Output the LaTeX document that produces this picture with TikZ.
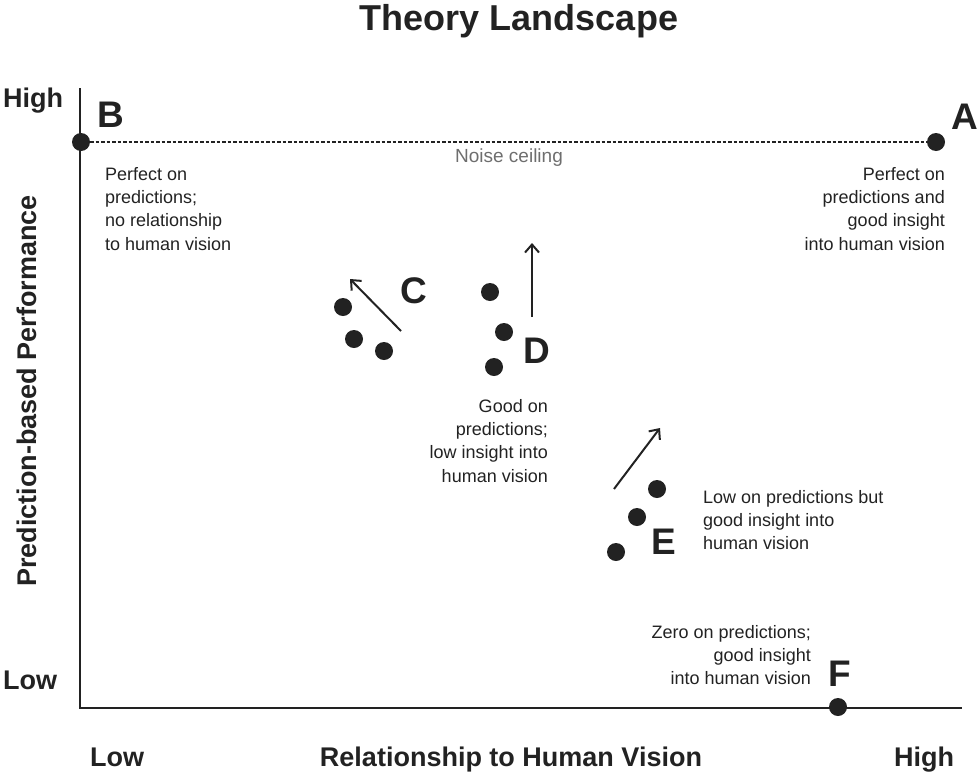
\documentclass[tikz,border=0pt]{standalone}
\usepackage{fontspec}
\setmainfont{Liberation Sans}
\usetikzlibrary{arrows.meta}

\begin{document}
\begin{tikzpicture}[
    x=1pt,
    y=-1pt,
    axis line/.style={draw=ink, line width=2pt},
    ceiling line/.style={draw=ink, line width=1.3pt, dash pattern=on 3.5pt off 2pt},
    theory dot/.style={circle, fill=ink, inner sep=0pt, minimum size=18pt},
    shift arrow/.style={draw=ink, line width=2pt, -{Straight Barb[length=8pt, width=14pt]}},
    point label/.style={font=\fontsize{37}{40}\selectfont\bfseries, text=ink, inner sep=0pt, anchor=base},
    note label/.style={font=\fontsize{18}{23.3}\selectfont, text=ink, inner sep=0pt},
    axis label/.style={font=\fontsize{27}{30}\selectfont\bfseries, text=ink, inner sep=0pt}
]

\definecolor{ink}{RGB}{34,34,34}
\definecolor{ceilingGrey}{RGB}{110,110,110}

\useasboundingbox (0,0) rectangle (980,774);

% Title.
\node[font=\fontsize{36}{40}\selectfont\bfseries, text=ink, inner sep=0pt, anchor=base]
  (title) at (519,30) {Theory Landscape};

% Axes.
\coordinate (yTop) at (80,88);
\coordinate (origin) at (80,708);
\coordinate (xEnd) at (962,708);
\draw[axis line] (yTop) -- (origin) -- (xEnd);

% Corner theories and the noise ceiling.
\node[theory dot] (ptB) at (81,142) {};
\node[theory dot] (ptA) at (936,142) {};
\node[theory dot] (ptF) at (838,707) {};
\draw[ceiling line] (ptB) -- (ptA);
\node[note label, text=ceilingGrey, font=\fontsize{19}{23}\selectfont] (noise) at (509,158) {Noise ceiling};

% Clusters C, D and E.
\node[theory dot] (c1) at (343,307) {};
\node[theory dot] (c2) at (354,339) {};
\node[theory dot] (c3) at (384,351) {};
\node[theory dot] (d1) at (490,292) {};
\node[theory dot] (d2) at (504,332) {};
\node[theory dot] (d3) at (494,367) {};
\node[theory dot] (e1) at (657,489) {};
\node[theory dot] (e2) at (637,517) {};
\node[theory dot] (e3) at (616,552) {};

% Directions of progress.
\coordinate (cTail) at (401,331);
\coordinate (cHead) at (350,279);
\coordinate (dTail) at (532,317);
\coordinate (dHead) at (532,243);
\coordinate (eTail) at (614,489);
\coordinate (eHead) at (660,428);
\draw[shift arrow] (cTail) -- (cHead);
\draw[shift arrow] (dTail) -- (dHead);
\draw[shift arrow] (eTail) -- (eHead);

% Point letters.
\node[point label] (labA) at (965,129) {A};
\node[point label] (labB) at (111,127) {B};
\node[point label] (labC) at (414,303) {C};
\node[point label] (labD) at (537,363) {D};
\node[point label] (labE) at (664,554) {E};
\node[point label] (labF) at (840,686) {F};

% Descriptions.
\node[note label, align=left, anchor=north west] (noteB) at (105,167)
  {Perfect on\\predictions;\\no relationship\\to human vision};
\node[note label, align=right, anchor=north east] (noteA) at (945,167)
  {Perfect on\\predictions and\\good insight\\into human vision};
\node[note label, align=right, anchor=north east] (noteD) at (548,399)
  {Good on\\predictions;\\low insight into\\human vision};
\node[note label, align=left, anchor=north west] (noteE) at (703,490)
  {Low on predictions but\\good insight into\\human vision};
\node[note label, align=right, anchor=north east] (noteF) at (811,625)
  {Zero on predictions;\\good insight\\into human vision};

% Axis labels.
\node[axis label, anchor=base west] (yHigh) at (3,107) {High};
\node[axis label, anchor=base west] (yLow) at (3,689) {Low};
\node[axis label, anchor=base west] (xLow) at (90,766) {Low};
\node[axis label, anchor=base west] (xHigh) at (894,766) {High};
\node[axis label, anchor=base] (xTitle) at (511,766) {Relationship to Human Vision};
\node[axis label, rotate=90] (yTitle) at (27,391) {Prediction-based Performance};

\end{tikzpicture}
\end{document}
